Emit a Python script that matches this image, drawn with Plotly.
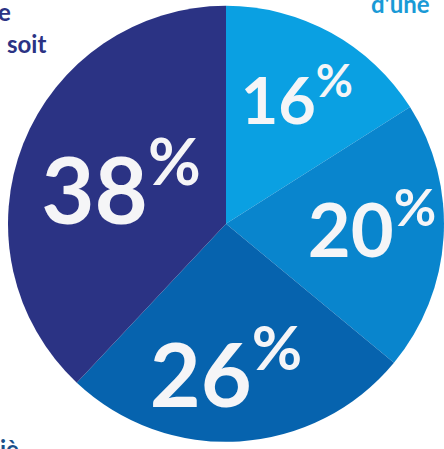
import plotly.graph_objects as go

values = [16, 20, 26, 38]
labels = ["16%", "20%", "26%", "38%"]
colors = ["#0aa0e2", "#0985cd", "#0663ae", "#2b3384"]
texts = [f"{v}<sup>%</sup>" for v in values]

fig = go.Figure(go.Pie(
    values=values,
    labels=labels,
    text=texts,
    textinfo="text",
    texttemplate="%{text}",
    textposition="inside",
    insidetextorientation="horizontal",
    sort=False,
    direction="clockwise",
    rotation=0,
    marker=dict(colors=colors, line=dict(width=0)),
    textfont=dict(family="Lato", size=92, color="#f5f5f7", weight="bold"),
    hoverinfo="skip",
    domain=dict(x=[0.018, 1.0], y=[0.016, 0.987]),
    showlegend=False,
))

annots = [
    dict(text="e", x=-0.008, y=1.012, xanchor="left", yanchor="top", color="#2b3384"),
    dict(text="soit", x=0.012, y=0.94, xanchor="left", yanchor="top", color="#2b3384"),
    dict(text="d'une", x=0.832, y=1.03, xanchor="left", yanchor="top", color="#1a9ad6"),
    dict(text="iè", x=-0.005, y=-0.035, xanchor="left", yanchor="bottom", color="#1b4f8a"),
]
for a in annots:
    fig.add_annotation(text=a["text"], x=a["x"], y=a["y"], xref="paper", yref="paper",
                       xanchor=a["xanchor"], yanchor=a["yanchor"], showarrow=False,
                       font=dict(family="Lato", size=24, color=a["color"], weight="bold"))

fig.update_layout(
    width=444, height=449,
    margin=dict(l=0, r=0, t=0, b=0),
    paper_bgcolor="white",
    plot_bgcolor="white",
)
fig.write_html("out.html")
